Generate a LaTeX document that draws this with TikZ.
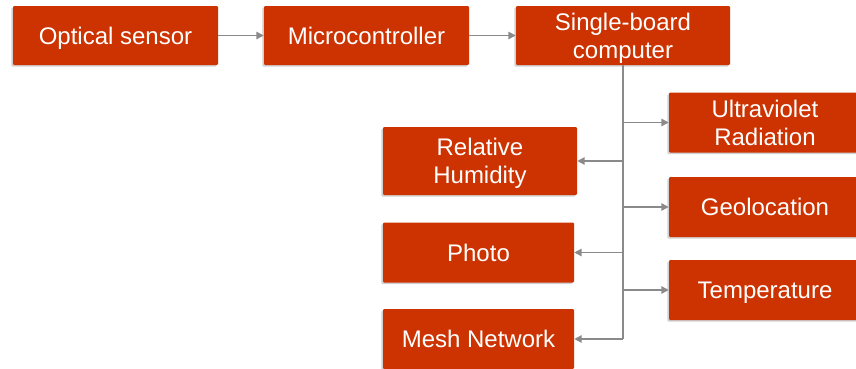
\documentclass[tikz,border=0pt]{standalone}
\usepackage{fontspec}
\setmainfont{Liberation Sans}
\usetikzlibrary{arrows.meta,shadows}
\definecolor{boxred}{HTML}{CC3300}
\definecolor{linkgray}{HTML}{8A8A8A}

\begin{document}
\begin{tikzpicture}[x=0.75pt,y=-0.75pt,
  box/.style={fill=boxred, text=white, font=\fontsize{18}{21}\selectfont,
    align=center, inner sep=0pt, text depth=0pt, rounded corners=0.8pt,
    drop shadow={shadow xshift=-1.2pt, shadow yshift=-1.2pt, opacity=0.3, fill=black!60}},
  wide/.style={minimum width=153.75pt, minimum height=44.25pt},
  side/.style={minimum width=144pt, minimum height=45pt},
  trunkline/.style={draw=linkgray, line width=1.1pt},
  link/.style={trunkline, -{Triangle[width=5.5pt,length=5.5pt]}}]
\useasboundingbox (0,0) rectangle (856,368);

% top row
\node[box, wide] (opt) at (115.5,35.5) {Optical sensor};
\node[box, wide] (mcu) at (366.5,35.5) {Microcontroller};
\node[box, wide, minimum width=160.5pt] (sbc) at (623,35.5) {Single-board\\computer};

% outputs on the right
\node[box, side] (uv)   at (765,122.5) {Ultraviolet\\Radiation};
\node[box, side] (geo)  at (765,207)   {Geolocation};
\node[box, side] (temp) at (765,290)   {Temperature};

% outputs on the left
\node[box, minimum width=145.5pt, minimum height=51pt] (rh) at (480,161) {Relative\\Humidity};
\node[box, minimum width=143.25pt, minimum height=45pt] (photo) at (478.5,252.5) {Photo};
\node[box, minimum width=143.25pt, minimum height=45pt] (mesh) at (478.5,339) {Mesh Network};

% connectors
\draw[link] (opt.east) -- (mcu.west);
\draw[link] (mcu.east) -- (sbc.west);
\draw[trunkline] (sbc.south) -- (sbc.south |- mesh.east);
\draw[link] (sbc.south |- uv.west) -- (uv.west);
\draw[link] (sbc.south |- rh.east) -- (rh.east);
\draw[link] (sbc.south |- geo.west) -- (geo.west);
\draw[link] (sbc.south |- photo.east) -- (photo.east);
\draw[link] (sbc.south |- temp.west) -- (temp.west);
\draw[link] (sbc.south |- mesh.east) -- (mesh.east);
\end{tikzpicture}
\end{document}
